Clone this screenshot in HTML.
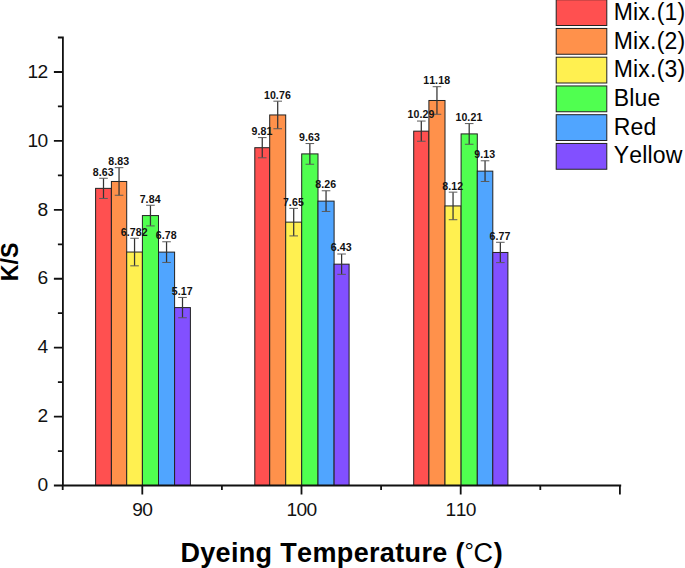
<!DOCTYPE html>
<html><head><meta charset="utf-8"><title>K/S vs Dyeing Temperature</title>
<style>
html,body{margin:0;padding:0;background:#fff;}
text{font-kerning:none;}
body{width:685px;height:568px;position:relative;overflow:hidden;font-family:"Liberation Sans",sans-serif;}
</style></head><body>
<svg width="685" height="568" viewBox="0 0 685 568" style="position:absolute;left:0;top:0">
<rect width="685" height="568" fill="#fff"/>
<g><rect x="95.60" y="188.36" width="15.80" height="297.14" fill="#FF5050" stroke="#222" stroke-width="1"/><rect x="111.40" y="181.47" width="15.30" height="304.03" fill="#FF914B" stroke="#222" stroke-width="1"/><rect x="126.70" y="252.04" width="15.70" height="233.46" fill="#FFF050" stroke="#222" stroke-width="1"/><rect x="142.40" y="215.58" width="16.10" height="269.92" fill="#50FF50" stroke="#222" stroke-width="1"/><rect x="158.50" y="252.11" width="16.10" height="233.39" fill="#50A5FF" stroke="#222" stroke-width="1"/><rect x="174.60" y="307.59" width="15.80" height="177.91" fill="#8250FF" stroke="#222" stroke-width="1"/><rect x="254.80" y="147.70" width="14.90" height="337.80" fill="#FF5050" stroke="#222" stroke-width="1"/><rect x="269.70" y="114.96" width="16.00" height="370.54" fill="#FF914B" stroke="#222" stroke-width="1"/><rect x="285.70" y="222.13" width="16.00" height="263.37" fill="#FFF050" stroke="#222" stroke-width="1"/><rect x="301.70" y="153.90" width="16.30" height="331.60" fill="#50FF50" stroke="#222" stroke-width="1"/><rect x="318.00" y="201.11" width="16.10" height="284.39" fill="#50A5FF" stroke="#222" stroke-width="1"/><rect x="334.10" y="264.17" width="15.00" height="221.33" fill="#8250FF" stroke="#222" stroke-width="1"/><rect x="413.70" y="131.16" width="15.20" height="354.34" fill="#FF5050" stroke="#222" stroke-width="1"/><rect x="428.90" y="100.49" width="16.10" height="385.01" fill="#FF914B" stroke="#222" stroke-width="1"/><rect x="445.00" y="205.93" width="16.10" height="279.57" fill="#FFF050" stroke="#222" stroke-width="1"/><rect x="461.10" y="133.91" width="16.20" height="351.59" fill="#50FF50" stroke="#222" stroke-width="1"/><rect x="477.30" y="171.13" width="15.50" height="314.37" fill="#50A5FF" stroke="#222" stroke-width="1"/><rect x="492.80" y="252.46" width="15.10" height="233.04" fill="#8250FF" stroke="#222" stroke-width="1"/></g>
<g fill="none" stroke="#333" stroke-width="1.25"><path d="M103.50 178.26V198.46"/><path d="M119.05 167.68V195.25"/><path d="M134.55 238.26V265.83"/><path d="M150.45 205.25V225.92"/><path d="M166.55 241.77V262.45"/><path d="M182.50 297.43V317.76"/><path d="M262.25 137.60V157.79"/><path d="M277.70 101.18V128.74"/><path d="M293.70 208.35V235.91"/><path d="M309.85 143.56V164.24"/><path d="M326.05 190.77V211.45"/><path d="M341.60 254.01V274.34"/><path d="M421.30 121.06V141.25"/><path d="M436.95 86.70V114.27"/><path d="M453.05 192.15V219.72"/><path d="M469.20 123.58V144.25"/><path d="M485.05 160.79V181.47"/><path d="M500.35 242.29V262.62"/></g>
<g fill="none" stroke="#5a5a5a" stroke-width="1"><path d="M99.20 178.26H107.80M99.20 198.46H107.80"/><path d="M114.75 167.68H123.35M114.75 195.25H123.35"/><path d="M130.25 238.26H138.85M130.25 265.83H138.85"/><path d="M146.15 205.25H154.75M146.15 225.92H154.75"/><path d="M162.25 241.77H170.85M162.25 262.45H170.85"/><path d="M178.20 297.43H186.80M178.20 317.76H186.80"/><path d="M257.95 137.60H266.55M257.95 157.79H266.55"/><path d="M273.40 101.18H282.00M273.40 128.74H282.00"/><path d="M289.40 208.35H298.00M289.40 235.91H298.00"/><path d="M305.55 143.56H314.15M305.55 164.24H314.15"/><path d="M321.75 190.77H330.35M321.75 211.45H330.35"/><path d="M337.30 254.01H345.90M337.30 274.34H345.90"/><path d="M417.00 121.06H425.60M417.00 141.25H425.60"/><path d="M432.65 86.70H441.25M432.65 114.27H441.25"/><path d="M448.75 192.15H457.35M448.75 219.72H457.35"/><path d="M464.90 123.58H473.50M464.90 144.25H473.50"/><path d="M480.75 160.79H489.35M480.75 181.47H489.35"/><path d="M496.05 242.29H504.65M496.05 262.62H504.65"/></g>
<g font-family="Liberation Sans, sans-serif" font-weight="700" font-size="10.6" letter-spacing="0.1" text-anchor="middle" fill="#111"><text x="103.20" y="175.66">8.63</text><text x="118.75" y="165.08">8.83</text><text x="134.25" y="235.66">6.782</text><text x="150.15" y="202.65">7.84</text><text x="166.25" y="239.17">6.78</text><text x="182.20" y="294.83">5.17</text><text x="261.95" y="135.00">9.81</text><text x="277.40" y="98.58">10.76</text><text x="293.40" y="205.75">7.65</text><text x="309.55" y="140.96">9.63</text><text x="325.75" y="188.17">8.26</text><text x="341.30" y="251.41">6.43</text><text x="421.00" y="118.46">10.29</text><text x="436.65" y="84.10">11.18</text><text x="452.75" y="189.55">8.12</text><text x="468.90" y="120.98">10.21</text><text x="484.75" y="158.19">9.13</text><text x="500.05" y="239.69">6.77</text></g>
<path d="M62.9 36.62V486.4M62.0 485.5H621.2M53.9 485.50H62.9M53.9 416.58H62.9M53.9 347.66H62.9M53.9 278.74H62.9M53.9 209.82H62.9M53.9 140.90H62.9M53.9 71.98H62.9M57.9 451.04H62.9M57.9 382.12H62.9M57.9 313.20H62.9M57.9 244.28H62.9M57.9 175.36H62.9M57.9 106.44H62.9M57.9 37.52H62.9M142.30 485.5V494.5M301.50 485.5V494.5M460.70 485.5V494.5M619.90 485.5V494.5M62.70 485.5V490.1M221.90 485.5V490.1M381.10 485.5V490.1M540.30 485.5V490.1" fill="none" stroke="#111" stroke-width="1.8"/>
<g font-family="Liberation Sans, sans-serif" font-size="19.2" letter-spacing="-0.6" fill="#111"><text x="47.7" y="491.20" text-anchor="end">0</text><text x="47.7" y="422.28" text-anchor="end">2</text><text x="47.7" y="353.36" text-anchor="end">4</text><text x="47.7" y="284.44" text-anchor="end">6</text><text x="47.7" y="215.52" text-anchor="end">8</text><text x="47.7" y="146.60" text-anchor="end">10</text><text x="47.7" y="77.68" text-anchor="end">12</text><text x="142.30" y="515.9" text-anchor="middle">90</text><text x="301.50" y="515.9" text-anchor="middle">100</text><text x="460.70" y="515.9" text-anchor="middle">110</text></g>
<text transform="translate(18.2 261.9) rotate(-90)" text-anchor="middle" font-family="Liberation Sans, sans-serif" font-weight="700" font-size="23.3" fill="#000">K/S</text>
<text x="180.4" y="561.6" font-family="Liberation Sans, sans-serif" font-weight="700" font-size="27" letter-spacing="0.34" fill="#000">Dyeing Temperature (<tspan font-weight="400" font-size="23.5" dy="-3.1" dx="-0.4" letter-spacing="-1.1">°</tspan><tspan font-weight="400" dy="3.1" dx="0.7">C</tspan><tspan dx="0.4">)</tspan></text>
<rect x="556.2" y="-0.30" width="50.6" height="25.8" fill="#FF5050" stroke="#222" stroke-width="1"/>
<text x="613.7" y="19.90" font-family="Liberation Sans, sans-serif" font-size="23" letter-spacing="0.2" fill="#000">Mix.(1)</text>
<rect x="556.2" y="28.45" width="50.6" height="25.8" fill="#FF914B" stroke="#222" stroke-width="1"/>
<text x="613.7" y="48.60" font-family="Liberation Sans, sans-serif" font-size="23" letter-spacing="0.2" fill="#000">Mix.(2)</text>
<rect x="556.2" y="57.20" width="50.6" height="25.8" fill="#FFF050" stroke="#222" stroke-width="1"/>
<text x="613.7" y="77.30" font-family="Liberation Sans, sans-serif" font-size="23" letter-spacing="0.2" fill="#000">Mix.(3)</text>
<rect x="556.2" y="85.95" width="50.6" height="25.8" fill="#50FF50" stroke="#222" stroke-width="1"/>
<text x="613.7" y="106.00" font-family="Liberation Sans, sans-serif" font-size="23" letter-spacing="0.2" fill="#000">Blue</text>
<rect x="556.2" y="114.70" width="50.6" height="25.8" fill="#50A5FF" stroke="#222" stroke-width="1"/>
<text x="613.7" y="134.70" font-family="Liberation Sans, sans-serif" font-size="23" letter-spacing="0.2" fill="#000">Red</text>
<rect x="556.2" y="143.45" width="50.6" height="25.8" fill="#8250FF" stroke="#222" stroke-width="1"/>
<text x="613.7" y="163.40" font-family="Liberation Sans, sans-serif" font-size="23" letter-spacing="0.2" fill="#000">Yellow</text>
</svg>
</body></html>
